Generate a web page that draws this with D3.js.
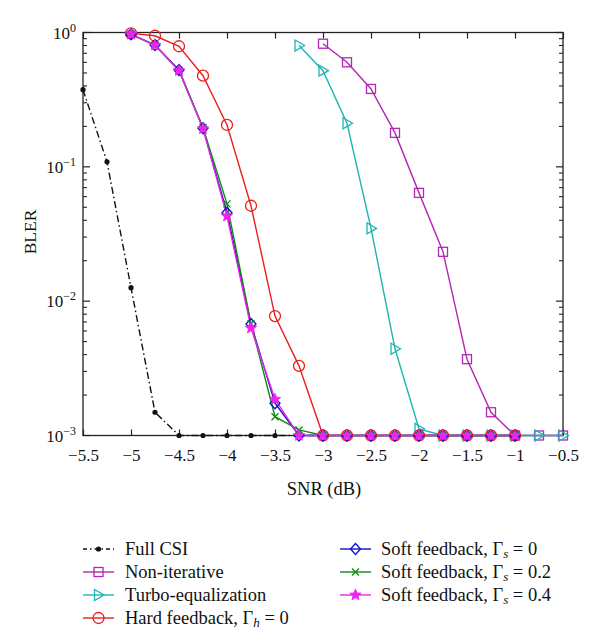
<!DOCTYPE html>
<html><head><meta charset="utf-8">
<script src="https://cdn.jsdelivr.net/npm/d3@7"></script>
<style>body{margin:0;background:#fff}svg{display:block}</style>
</head><body><svg id="c" width="600" height="632"></svg>
<script>
const xTicks = [-5.5,-5,-4.5,-4,-3.5,-3,-2.5,-2,-1.5,-1,-0.5];
const yTicks = [1e-3,1e-2,1e-1,1];
const yTickExp = ["−3","−2","−1","0"];

const fullCsiX = [-5.5,-5.25,-5,-4.75,-4.5,-4.25,-4,-3.75,-3.5,-3.25,-3];
const fullCsiY = [0.375,0.109,0.0126,0.00149,0.001,0.001,0.001,0.001,0.001,0.001,0.001];

const nonIterX = [-3,-2.75,-2.5,-2.25,-2,-1.75,-1.5,-1.25,-1,-0.75,-0.5];
const nonIterY = [0.825,0.60,0.38,0.179,0.064,0.0233,0.0037,0.00149,0.001,0.001,0.001];

const turboX = [-3.25,-3,-2.75,-2.5,-2.25,-2,-1.75,-1.5,-1.25,-1,-0.75,-0.5];
const turboY = [0.80,0.52,0.211,0.0348,0.00442,0.00112,0.001,0.001,0.001,0.001,0.001,0.001];

const hardX = [-5,-4.75,-4.5,-4.25,-4,-3.75,-3.5,-3.25,-3,-2.75,-2.5,-2.25,-2,-1.75,-1.5,-1.25,-1];
const hardY = [0.985,0.946,0.79,0.477,0.205,0.0513,0.00774,0.0033,0.001,0.001,0.001,0.001,0.001,0.001,0.001,0.001,0.001];

const soft0X = [-5,-4.75,-4.5,-4.25,-4,-3.75,-3.5,-3.25,-3,-2.75,-2.5,-2.25,-2,-1.75,-1.5,-1.25,-1];
const soft0Y = [0.97,0.807,0.526,0.194,0.0455,0.00676,0.00174,0.001,0.001,0.001,0.001,0.001,0.001,0.001,0.001,0.001,0.001];
const soft2Y = [0.97,0.807,0.52,0.196,0.053,0.0068,0.00138,0.0011,0.001,0.001,0.001,0.001,0.001,0.001,0.001,0.001,0.001];
const soft4Y = [0.97,0.805,0.52,0.192,0.043,0.0063,0.00186,0.001,0.001,0.001,0.001,0.001,0.001,0.001,0.001,0.001,0.001];

const series = [
  {name:"Full CSI", xs:fullCsiX, ys:fullCsiY, color:"#111", marker:"dot", dash:"7,3,1.5,3", col:0, row:0},
  {name:"Non-iterative", xs:nonIterX, ys:nonIterY, color:"#b427b4", marker:"square", col:0, row:1},
  {name:"Turbo-equalization", xs:turboX, ys:turboY, color:"#1eb4b4", marker:"tri", col:0, row:2},
  {name:"Hard", xs:hardX, ys:hardY, color:"#e8201e", marker:"circle", col:0, row:3},
  {name:"Soft0", xs:soft0X, ys:soft0Y, color:"#1010c8", marker:"diamond", col:1, row:0},
  {name:"Soft2", xs:soft0X, ys:soft2Y, color:"#108a10", marker:"x", col:1, row:1},
  {name:"Soft4", xs:soft0X, ys:soft4Y, color:"#ee22ee", marker:"star", col:1, row:2}
];

const FONT = "Liberation Serif";
const svg = d3.select("#c");
const L=83, R=563, T=32.5, B=435.5;
const x = d3.scaleLinear().domain([-5.5,-0.5]).range([L,R]);
const y = d3.scaleLog().domain([1e-3,1]).range([B,T]);

function drawMarker(g, type, cx, cy, color){
  if(type==="dot") g.append("circle").attr("cx",cx).attr("cy",cy).attr("r",2.6).attr("fill",color);
  else if(type==="square") g.append("rect").attr("x",cx-4.5).attr("y",cy-4.5).attr("width",9).attr("height",9).attr("fill","none").attr("stroke",color).attr("stroke-width",1.3);
  else if(type==="circle") g.append("circle").attr("cx",cx).attr("cy",cy).attr("r",5.5).attr("fill","none").attr("stroke",color).attr("stroke-width",1.3);
  else if(type==="tri") g.append("path").attr("d",`M${cx-4},${cy-5.5}L${cx+5.5},${cy}L${cx-4},${cy+5.5}Z`).attr("fill","none").attr("stroke",color).attr("stroke-width",1.3);
  else if(type==="diamond") g.append("path").attr("d",`M${cx},${cy-5.5}L${cx+5},${cy}L${cx},${cy+5.5}L${cx-5},${cy}Z`).attr("fill","none").attr("stroke",color).attr("stroke-width",1.3);
  else if(type==="x") g.append("path").attr("d",`M${cx-3.5},${cy-3.5}L${cx+3.5},${cy+3.5}M${cx-3.5},${cy+3.5}L${cx+3.5},${cy-3.5}`).attr("stroke",color).attr("stroke-width",1.3);
  else if(type==="star"){
    const pts=[];
    for(let i=0;i<10;i++){const a=-Math.PI/2+i*Math.PI/5;const r=i%2?2.6:6;pts.push([cx+r*Math.cos(a),cy+r*Math.sin(a)]);}
    g.append("path").attr("d","M"+pts.map(p=>p.join(",")).join("L")+"Z").attr("fill",color).attr("stroke",color).attr("stroke-width",0.8);
  }
}

svg.append("rect").attr("x",L).attr("y",T).attr("width",R-L).attr("height",B-T).attr("fill","none").attr("stroke","#222").attr("stroke-width",1.3);

const gxB = svg.append("g").attr("transform",`translate(0,${B})`)
  .call(d3.axisBottom(x).tickValues(xTicks).tickSizeInner(-6).tickSizeOuter(0).tickFormat(d=>d3.format("")(d).replace("-","−")));
gxB.select(".domain").remove();
gxB.selectAll("text").attr("dy","1.3em").style("font-family",FONT).style("font-size","17px").attr("fill","#111");
gxB.selectAll("line").attr("stroke","#222").attr("stroke-width",1.2);
const gxT = svg.append("g").attr("transform",`translate(0,${T})`)
  .call(d3.axisTop(x).tickValues(xTicks).tickSizeInner(-6).tickSizeOuter(0).tickFormat(""));
gxT.select(".domain").remove();
gxT.selectAll("line").attr("stroke","#222").attr("stroke-width",1.2);

const minor=[];
for(let e=-3;e<0;e++) for(let m=2;m<=9;m++) minor.push(m*Math.pow(10,e));
[[L,1],[R,-1]].forEach(([px,s])=>{
  const g=svg.append("g");
  g.selectAll("line.maj").data(yTicks).enter().append("line").attr("x1",px).attr("x2",px+s*7).attr("y1",d=>y(d)).attr("y2",d=>y(d)).attr("stroke","#222").attr("stroke-width",1.2);
  g.selectAll("line.min").data(minor).enter().append("line").attr("x1",px).attr("x2",px+s*4).attr("y1",d=>y(d)).attr("y2",d=>y(d)).attr("stroke","#222").attr("stroke-width",1.1);
});
yTicks.forEach((v,i)=>{
  const t=svg.append("text").attr("x",L-7).attr("y",y(v)+6).attr("text-anchor","end").style("font-family",FONT).style("font-size","17px").attr("fill","#111");
  t.append("tspan").text("10");
  t.append("tspan").attr("dy","-7").style("font-size","12px").text(yTickExp[i]);
});

const line = d3.line().x(d=>x(d[0])).y(d=>y(d[1]));
series.forEach(s=>{
  const data=s.xs.map((v,i)=>[v,s.ys[i]]);
  svg.append("path").datum(data).attr("d",line).attr("fill","none").attr("stroke",s.color).attr("stroke-width",1.4).attr("stroke-dasharray",s.dash||null);
});
series.forEach(s=>{
  const g=svg.append("g");
  s.xs.forEach((v,i)=>drawMarker(g,s.marker,x(v),y(s.ys[i]),s.color));
});

svg.append("text").attr("x",324).attr("y",495).attr("text-anchor","middle").style("font-family",FONT).style("font-size","18.5px").attr("fill","#111").text("SNR (dB)");
svg.append("text").attr("transform","translate(36,232) rotate(-90)").attr("text-anchor","middle").style("font-family",FONT).style("font-size","17.5px").attr("fill","#111").text("BLER");

const legX=[83,340], legTX=[125,381], legY=[549,572,595,618];
series.forEach(s=>{
  const lx=legX[s.col], ly=legY[s.row];
  svg.append("line").attr("x1",lx).attr("x2",lx+31).attr("y1",ly).attr("y2",ly).attr("stroke",s.color).attr("stroke-width",1.4).attr("stroke-dasharray",s.dash?"4,3,1.5,3":null);
  const g=svg.append("g");
  drawMarker(g,s.marker,lx+15.5,ly,s.color);
});
function legText(col,row,parts){
  const t=svg.append("text").attr("x",legTX[col]).attr("y",legY[row]+6).style("font-family",FONT).style("font-size","18.5px").attr("fill","#111");
  parts.forEach(p=>{const ts=t.append("tspan").text(p[0]); if(p[1]) ts.style("font-style","italic").style("font-size","13px").attr("dy","3"); if(p[2]) ts.attr("dy",p[2]);});
}
legText(0,0,[["Full CSI"]]);
legText(0,1,[["Non-iterative"]]);
legText(0,2,[["Turbo-equalization"]]);
legText(0,3,[["Hard feedback, Γ"],["h",1],[" = 0",0,"-3"]]);
legText(1,0,[["Soft feedback, Γ"],["s",1],[" = 0",0,"-3"]]);
legText(1,1,[["Soft feedback, Γ"],["s",1],[" = 0.2",0,"-3"]]);
legText(1,2,[["Soft feedback, Γ"],["s",1],[" = 0.4",0,"-3"]]);
</script></body></html>
